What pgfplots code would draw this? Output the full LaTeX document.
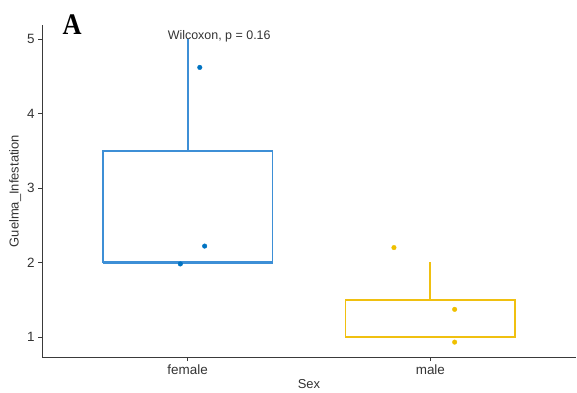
\documentclass[border=0pt]{standalone}
\usepackage{pgfplots}
\pgfplotsset{compat=1.18}
\usepackage{fontspec}
\setmainfont{Liberation Sans}
\newfontfamily\serifA{Liberation Serif}
\definecolor{jcoblue}{HTML}{0073C2}
\definecolor{boxblue}{HTML}{3D8FD6}
\definecolor{jcoyellow}{HTML}{EFC000}
\definecolor{boxyellow}{HTML}{F0C010}
\definecolor{axgray}{HTML}{3A3A3A}
\begin{document}
\begin{tikzpicture}[x=1bp,y=1bp]
\useasboundingbox (0,0) rectangle (577,392);
\begin{axis}[
  at={(42bp,35bp)}, anchor=south west,
  scale only axis, width=534bp, height=332bp,
  xmin=0.4, xmax=2.6, ymin=0.73, ymax=5.19,
  axis x line*=bottom, axis y line*=left,
  axis line style={axgray, line width=0.9pt, -},
  xtick={1,2}, xticklabels={female,male},
  ytick={1,2,3,4,5},
  tick align=outside, major tick length=4bp,
  tick style={axgray, line width=0.8pt},
  ticklabel style={font=\fontsize{13.5}{15}\selectfont, text=black!80},
  /pgf/number format/assume math mode=true,
  xlabel={Sex}, ylabel={Guelma\_Infestation},
  label style={font=\fontsize{13}{15}\selectfont, text=black!80},
  xlabel style={yshift=2bp},
  ylabel style={yshift=-1bp},
  clip=false,
]
% female box: lower=2, median=2, upper=3.5, whisker to 5
\addplot[draw=boxblue, line width=1.8pt, mark=none, line join=miter] coordinates {
  (0.65,2) (1.35,2) (1.35,3.5) (0.65,3.5) (0.65,2)} -- cycle;
\addplot[draw=boxblue, line width=1.8pt, mark=none] coordinates {(1,3.5) (1,5)};
\addplot[draw=boxblue, line width=2.8pt, mark=none] coordinates {(0.65,2) (1.35,2)};
% male box: lower=1, median=1, upper=1.5, whisker to 2
\addplot[draw=boxyellow, line width=1.8pt, mark=none, line join=miter] coordinates {
  (1.65,1) (2.35,1) (2.35,1.5) (1.65,1.5) (1.65,1)} -- cycle;
\addplot[draw=boxyellow, line width=1.8pt, mark=none] coordinates {(2,1.5) (2,2)};
\addplot[draw=boxyellow, line width=2.8pt, mark=none] coordinates {(1.65,1) (2.35,1)};
\addplot[only marks, mark=*, mark size=2.3pt, jcoblue] coordinates {
  (1.05,4.62) (1.07,2.22) (0.97,1.98)
};
\addplot[only marks, mark=*, mark size=2.3pt, jcoyellow] coordinates {
  (1.85,2.20) (2.10,1.37) (2.10,0.93)
};
\node[font=\fontsize{12.5}{14}\selectfont, text=black!80] at (axis cs:1.13,5.04) {Wilcoxon, p = 0.16};
\end{axis}
\node[font=\serifA\bfseries\fontsize{30}{32}\selectfont, xscale=0.88] at (72,367) {A};
\end{tikzpicture}
\end{document}
